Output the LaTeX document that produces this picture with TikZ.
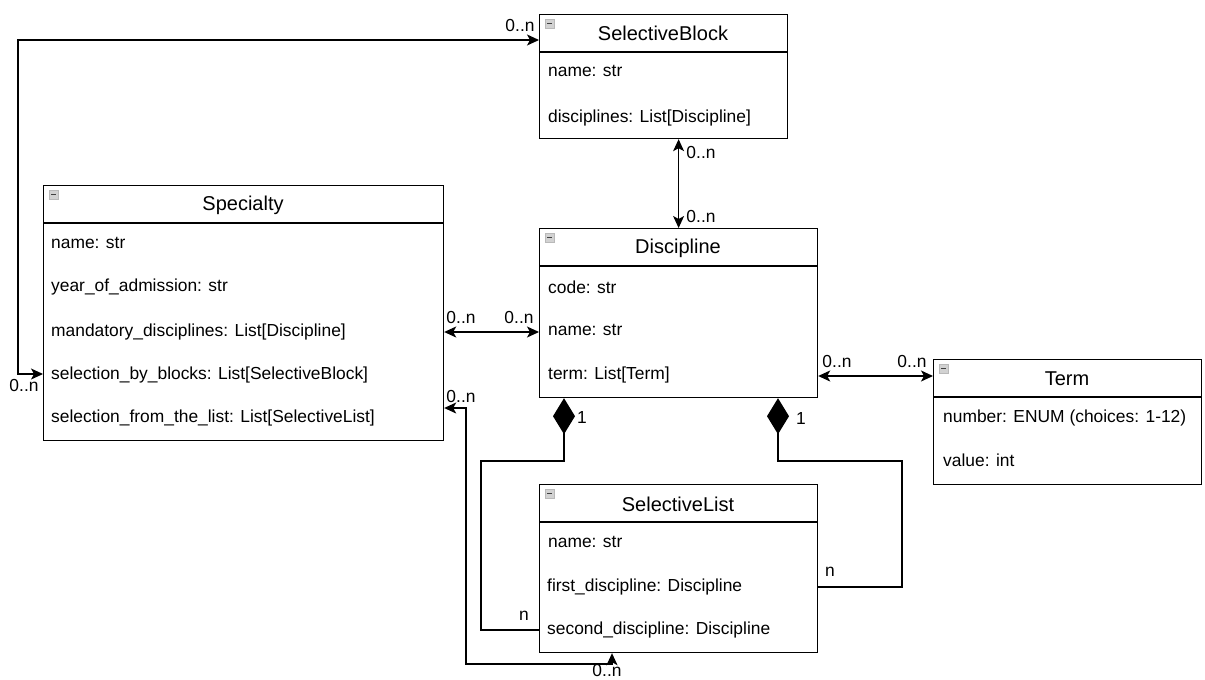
\documentclass[tikz,border=0pt]{standalone}
\usepackage{fontspec}
\setmainfont{Liberation Sans}
\usetikzlibrary{arrows.meta}
\newcommand\clsicon[1]{%
  \draw[gray!55, fill=gray!35, line width=0.8pt] ([xshift=6pt,yshift=-5pt]#1.north west) rectangle ([xshift=15pt,yshift=-14pt]#1.north west);
  \draw[black!75, line width=1.6pt] ([xshift=8pt,yshift=-9.5pt]#1.north west) -- ([xshift=13pt,yshift=-9.5pt]#1.north west);}
\tikzset{
  cls/.style={draw, line width=1.2pt, anchor=north west, inner sep=0pt, fill=white},
  ttl/.style={font=\fontsize{20}{24}\selectfont, inner sep=0pt},
  row/.style={anchor=west, font=\fontsize{17.4}{20}\selectfont, inner sep=0pt},
  lbl/.style={font=\fontsize{17.4}{20}\selectfont, inner sep=0pt},
  con/.style={line width=1.2pt},
  sep/.style={line width=1.2pt},
  >={Stealth[length=12pt,width=11pt,inset=3pt]},
  comp/.style={-{Diamond[length=36pt,width=22pt]}}
}
\begin{document}
\begin{tikzpicture}[x=1pt,y=-1pt]
\useasboundingbox (0,0) rectangle (1205,680);
% SelectiveBlock
\node[cls, minimum width=248pt, minimum height=124pt] (sb) at (539,14) {};
\draw[sep] (539,52) -- (787,52);
\node[ttl] (sbt) at (663,33) {SelectiveBlock};
\node[row] (sbr1) at (548,71) {name: str};
\node[row] (sbr2) at (548,118) {disciplines: List[Discipline]};
\clsicon{sb}
% Specialty
\node[cls, minimum width=400pt, minimum height=255pt] (spec) at (43,185) {};
\draw[sep] (43,223) -- (443,223);
\node[ttl] (spect) at (243,205) {Specialty};
\node[row] (specr1) at (51,243) {name: str};
\node[row] (specr2) at (51,287) {year\_of\_admission: str};
\node[row] (specr3) at (51,332) {mandatory\_disciplines: List[Discipline]};
\node[row] (specr4) at (51,375) {selection\_by\_blocks: List[SelectiveBlock]};
\node[row] (specr5) at (51,418) {selection\_from\_the\_list: List[SelectiveList]};
\clsicon{spec}
% Discipline
\node[cls, minimum width=278pt, minimum height=169pt] (disc) at (539,228) {};
\draw[sep] (539,266) -- (817,266);
\node[ttl] (disct) at (678,248) {Discipline};
\node[row] (discr1) at (548,287) {code: str};
\node[row] (discr2) at (548,330) {name: str};
\node[row] (discr3) at (548,375) {term: List[Term]};
\clsicon{disc}
% Term
\node[cls, minimum width=268pt, minimum height=125pt] (term) at (933,359) {};
\draw[sep] (933,397) -- (1201,397);
\node[ttl] (termt) at (1067,379) {Term};
\node[row] (termr1) at (943,418) {number: ENUM (choices: 1-12)};
\node[row] (termr2) at (943,460) {value: int};
\clsicon{term}
% SelectiveList
\node[cls, minimum width=278pt, minimum height=168pt] (sl) at (539,484) {};
\draw[sep] (539,522) -- (817,522);
\node[ttl] (slt) at (678,504) {SelectiveList};
\node[row] (slr1) at (548,542) {name: str};
\node[row] (slr2) at (547,587) {first\_discipline: Discipline};
\node[row] (slr3) at (547,630) {second\_discipline: Discipline};
\clsicon{sl}
% connectors
\draw[con,<->] (spec.west |- 0,374) -| (18,40) -- (sb.west |- 0,40);
\draw[con,<->] (disc.north |- sb.south) -- (disc.north);
\draw[con,<->] (spec.east |- 0,332) -- (disc.west |- 0,332);
\draw[con,<->] (disc.east |- 0,376) -- (term.west |- 0,376);
\draw[con,<->] (spec.east |- 0,408) -| (466,664) -| (sl.south -| 612,0);
\coordinate (dA) at ([xshift=25pt]disc.south west);
\coordinate (dB) at ([xshift=239pt]disc.south west);
\draw[con,comp] (slr3 -| sl.west) -| (481,461) -| (dA);
\draw[con,comp] (slr2 -| sl.east) -| (902,461) -| (dB);
% labels
\node[lbl] (l1) at (520,26) {0..n};
\node[lbl] (l2) at (24,386) {0..n};
\node[lbl] (l3) at (701,153) {0..n};
\node[lbl] (l4) at (701,217) {0..n};
\node[lbl] (l5) at (461,318) {0..n};
\node[lbl] (l6) at (519,318) {0..n};
\node[lbl] (l7) at (837,362) {0..n};
\node[lbl] (l8) at (912,362) {0..n};
\node[lbl] (l9) at (461,397) {0..n};
\node[lbl] (l10) at (607,671) {0..n};
\node[lbl] (l11) at (582,418) {1};
\node[lbl] (l12) at (801,419) {1};
\node[lbl] (l13) at (524,616) {n};
\node[lbl] (l14) at (830,572) {n};
\end{tikzpicture}
\end{document}
